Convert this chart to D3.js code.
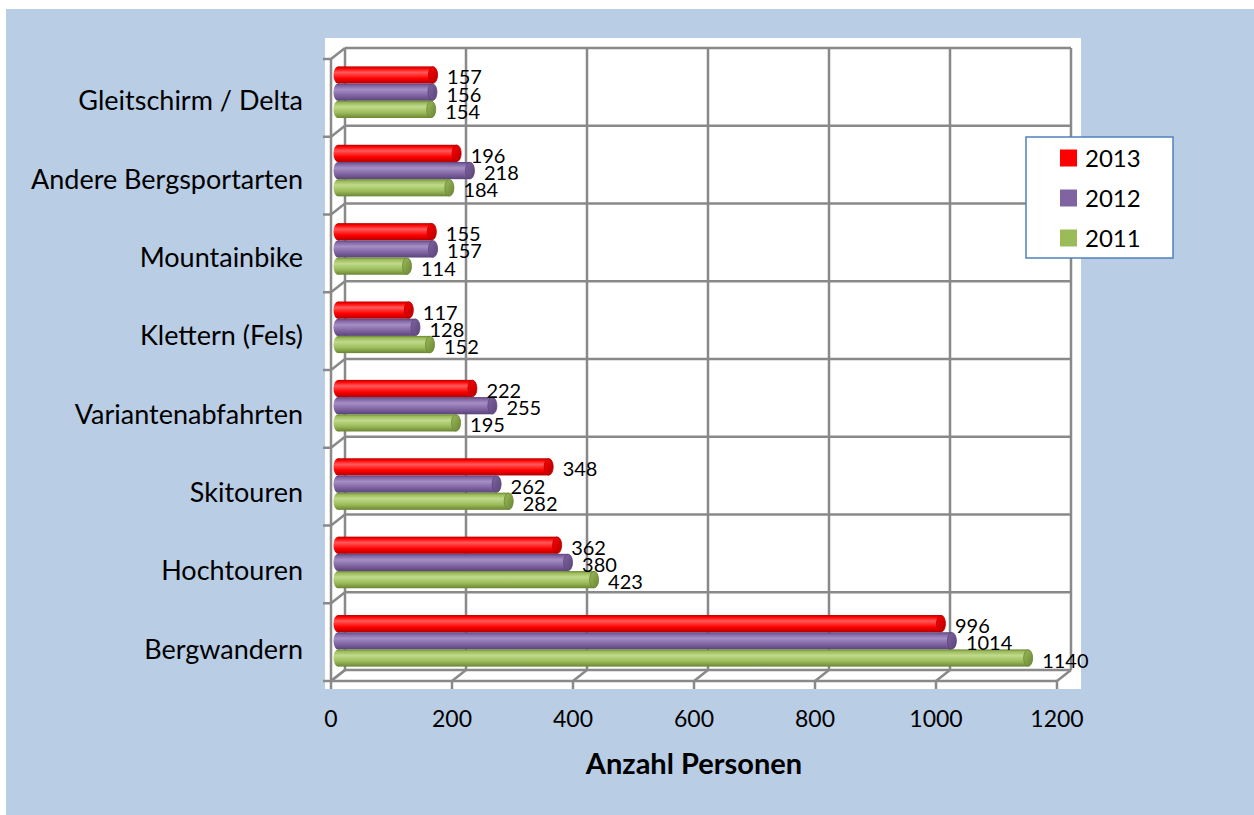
<!DOCTYPE html>
<html>
<head>
<meta charset="utf-8">
<script src="https://cdn.jsdelivr.net/npm/d3@7"></script>
<style>
  html, body { margin: 0; padding: 0; background: #ffffff; }
  svg { display: block; }
  text { font-family: Lato, "Open Sans", sans-serif; fill: #000; }
</style>
</head>
<body>
<svg id="chart" width="1254" height="815"></svg>
<script>
// ---- data ----
const categories = ["Gleitschirm / Delta", "Andere Bergsportarten", "Mountainbike", "Klettern (Fels)",
                    "Variantenabfahrten", "Skitouren", "Hochtouren", "Bergwandern"];
const seriesNames = ["2013", "2012", "2011"];
const values2013 = [157, 196, 155, 117, 222, 348, 362, 996];
const values2012 = [156, 218, 157, 128, 255, 262, 380, 1014];
const values2011 = [154, 184, 114, 152, 195, 282, 423, 1140];
const xTicks = [0, 200, 400, 600, 800, 1000, 1200];
const xTitle = "Anzahl Personen";

const seriesValues = [values2013, values2012, values2011];
const seriesColors = ["#ff0000", "#8064a2", "#9bbb59"];
const seriesLight = ["#ff5a5a", "#a58fc4", "#c0da8c"];
const seriesDark = ["#b40000", "#5a4479", "#6a8534"];

const svg = d3.select("#chart");
const W = 1254, H = 815;

// background
svg.append("rect").attr("x", 6).attr("y", 9).attr("width", W - 6).attr("height", H - 9).attr("fill", "#b9cde5");
// plot area white
svg.append("rect").attr("x", 325).attr("y", 38).attr("width", 756).attr("height", 651).attr("fill", "#ffffff");

// 3D geometry
const DX = 14, DY = -11;
const xf = d3.scaleLinear().domain([0, 1200]).range([331, 1057]);        // front plane
const xb = v => xf(v) + DX;                                               // back plane
const xm = d3.scaleLinear().domain([0, 1200]).range([338, 1064.5]);      // bar depth
const yFront = d3.scaleBand().domain(categories).range([59, 681]).paddingInner(0).paddingOuter(0);
const yBar = d3.scaleBand().domain(categories).range([53, 680]);
const boundaries = d3.range(categories.length + 1).map(i => 59 + i * yFront.step());

const gridColor = "#898989", gw = 2.5;
const grid = svg.append("g").attr("stroke", gridColor).attr("stroke-width", gw).attr("fill", "none");

// back wall vertical gridlines
xTicks.forEach(t => {
  grid.append("line").attr("x1", xb(t)).attr("x2", xb(t)).attr("y1", 59 + DY).attr("y2", 681 + DY);
});
// back wall horizontal lines
boundaries.forEach(y => {
  grid.append("line").attr("x1", xb(0)).attr("x2", xb(1200)).attr("y1", y + DY).attr("y2", y + DY);
});
// left wall: front vertical axis + diagonals + ticks
grid.append("line").attr("x1", xf(0)).attr("x2", xf(0)).attr("y1", 59).attr("y2", 681);
boundaries.forEach(y => {
  grid.append("line").attr("x1", xf(0)).attr("x2", xb(0)).attr("y1", y).attr("y2", y + DY);
  grid.append("line").attr("x1", xf(0) - 8).attr("x2", xf(0)).attr("y1", y).attr("y2", y);
});
// floor: front line + diagonals + ticks
grid.append("line").attr("x1", xf(0)).attr("x2", xf(1200)).attr("y1", 681).attr("y2", 681);
xTicks.forEach(t => {
  grid.append("line").attr("x1", xf(t)).attr("x2", xb(t)).attr("y1", 681).attr("y2", 681 + DY);
  grid.append("line").attr("x1", xf(t)).attr("x2", xf(t)).attr("y1", 681).attr("y2", 689);
});

// gradients for cylinders
const defs = svg.append("defs");
seriesNames.forEach((s, i) => {
  const g = defs.append("linearGradient").attr("id", "grad" + i)
    .attr("x1", 0).attr("y1", 0).attr("x2", 0).attr("y2", 1);
  g.append("stop").attr("offset", "0%").attr("stop-color", seriesDark[i]);
  g.append("stop").attr("offset", "12%").attr("stop-color", seriesColors[i]);
  g.append("stop").attr("offset", "35%").attr("stop-color", seriesLight[i]);
  g.append("stop").attr("offset", "70%").attr("stop-color", seriesColors[i]);
  g.append("stop").attr("offset", "100%").attr("stop-color", seriesDark[i]);
  const c = defs.append("linearGradient").attr("id", "cap" + i)
    .attr("x1", 0).attr("y1", 0).attr("x2", 1).attr("y2", 1);
  c.append("stop").attr("offset", "0%").attr("stop-color", seriesColors[i]);
  c.append("stop").attr("offset", "100%").attr("stop-color", seriesDark[i]);
});

// bars
const barH = 17.2;
const bars = svg.append("g");
const labels = svg.append("g").style("font-size", "20px");
categories.forEach((cat, ci) => {
  const cy = yBar(cat) + yBar.bandwidth() / 2;
  seriesValues.forEach((vals, si) => {
    const v = vals[ci];
    const top = cy - 1.5 * barH + si * barH;
    const x0 = xm(0), x1 = xm(v);
    const rx = 4.5, ry = barH / 2;
    const g = bars.append("g");
    g.append("ellipse").attr("cx", x0).attr("cy", top + ry).attr("rx", rx).attr("ry", ry).attr("fill", `url(#grad${si})`);
    g.append("rect").attr("x", x0).attr("y", top).attr("width", x1 - x0).attr("height", barH).attr("fill", `url(#grad${si})`);
    g.append("ellipse").attr("cx", x1).attr("cy", top + ry).attr("rx", rx).attr("ry", ry - 0.3)
      .attr("fill", `url(#cap${si})`).attr("stroke", seriesDark[si]).attr("stroke-width", 0.8);
    labels.append("text").attr("x", x1 + 14).attr("y", top + ry + 9.5).text(v);
  });
});

// category labels
const catG = svg.append("g").style("font-size", "27px").attr("text-anchor", "end");
categories.forEach(cat => {
  catG.append("text").attr("x", 303).attr("y", yBar(cat) + yBar.bandwidth() / 2 + 18).text(cat);
});

// x tick labels
const tickG = svg.append("g").style("font-size", "23px").attr("text-anchor", "middle");
xTicks.forEach(t => {
  tickG.append("text").attr("x", xf(t)).attr("y", 727).text(t);
});

// axis title
svg.append("text").attr("x", 694).attr("y", 774).attr("text-anchor", "middle")
  .style("font-size", "29px").style("font-weight", "bold").text(xTitle);

// legend
const lg = svg.append("g");
lg.append("rect").attr("x", 1026).attr("y", 137).attr("width", 147).attr("height", 121)
  .attr("fill", "#ffffff").attr("stroke", "#4f81bd").attr("stroke-width", 1.5);
seriesNames.forEach((s, i) => {
  const cy = 158 + i * 40;
  lg.append("rect").attr("x", 1060).attr("y", cy - 8.5).attr("width", 17).attr("height", 17).attr("fill", seriesColors[i]);
  lg.append("text").attr("x", 1085).attr("y", cy + 8.5).style("font-size", "24px").text(s);
});
</script>
</body>
</html>
